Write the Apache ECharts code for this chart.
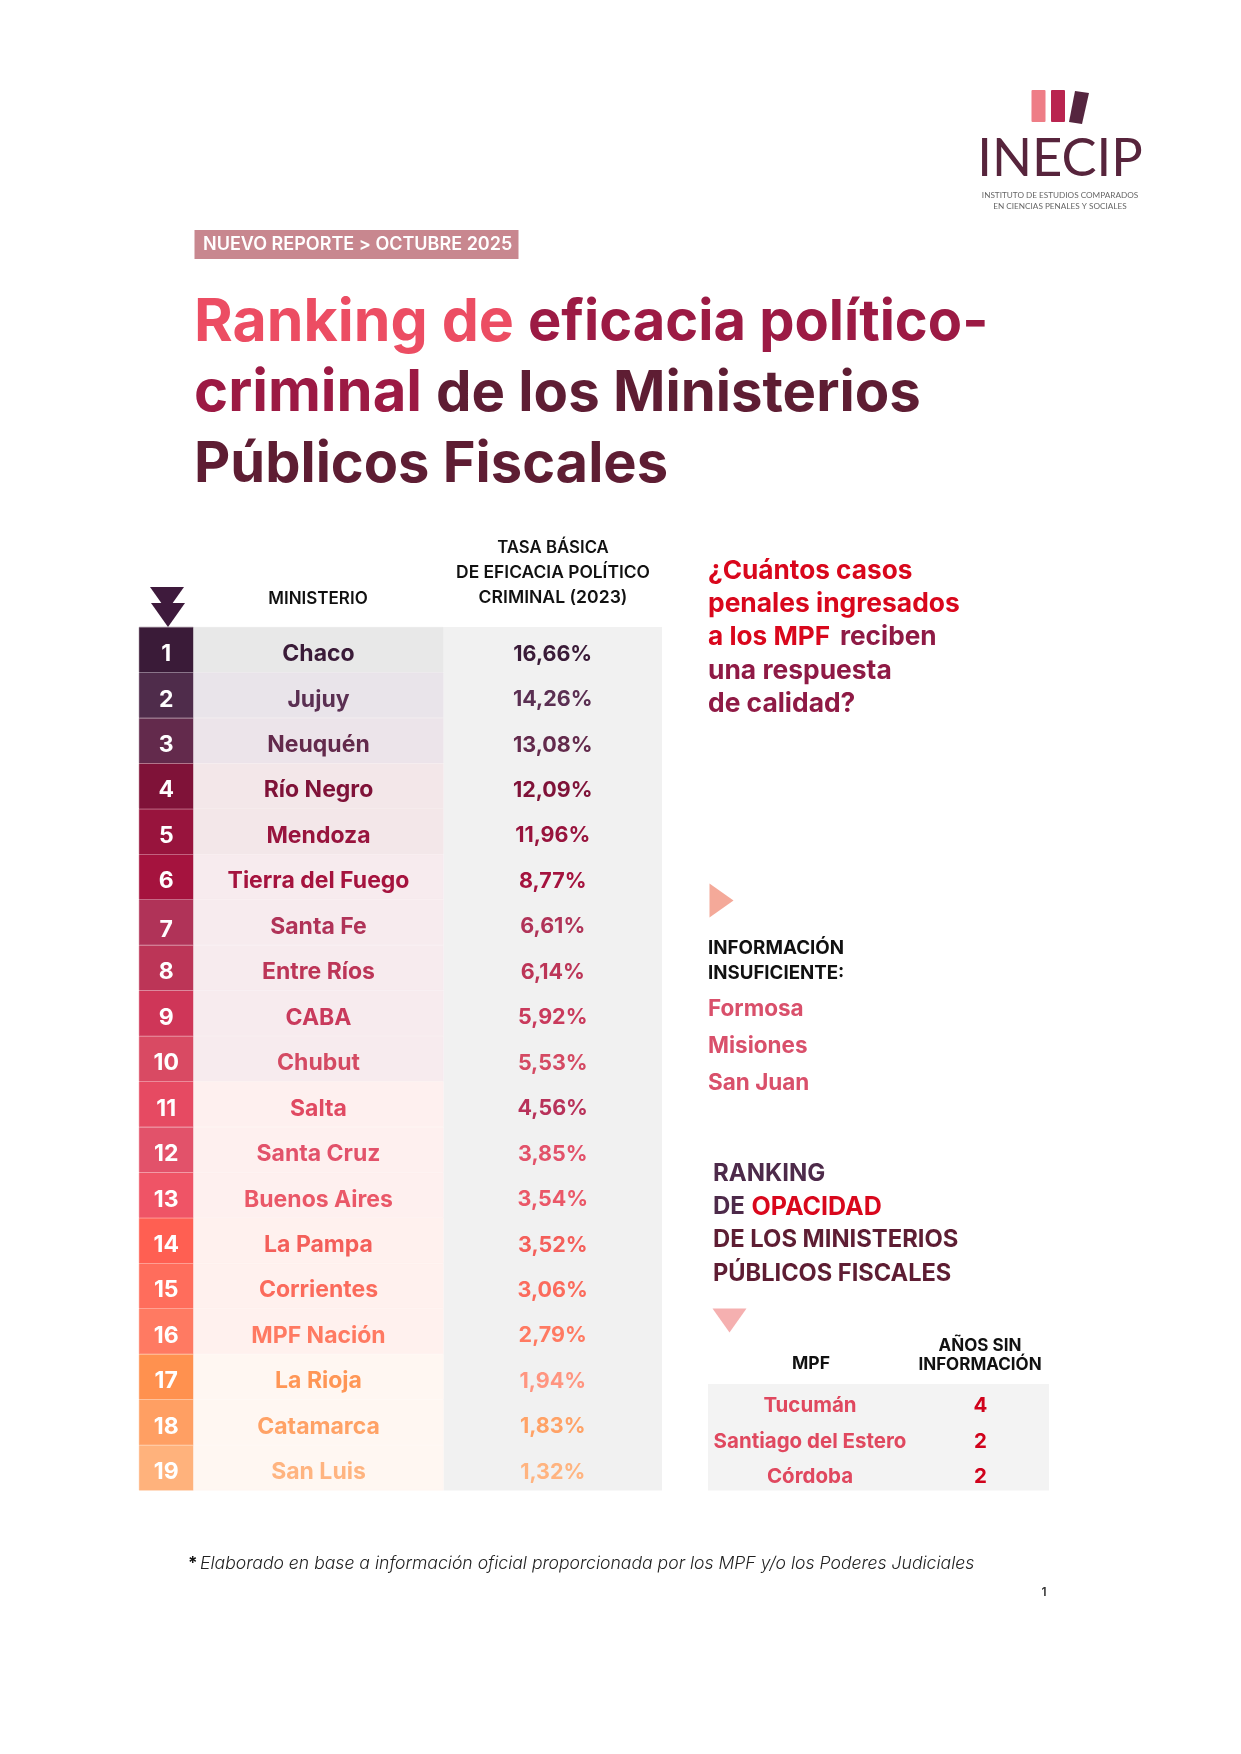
<!DOCTYPE html>
<html style="height: 100%">
<head>
<meta charset="utf-8">
<style>html,body{margin:0;padding:0;background:#fff}</style>
</head>
<body>
<div id="container" style="width:1241px;height:1754px"></div>
<script src="https://cdn.jsdelivr.net/npm/echarts@6/dist/echarts.min.js"></script>
<script>
// datos
var rangos = ['1','2','3','4','5','6','7','8','9','10','11','12','13','14','15','16','17','18','19'];
var ministerios = ['Chaco','Jujuy','Neuquén','Río Negro','Mendoza','Tierra del Fuego','Santa Fe','Entre Ríos','CABA','Chubut','Salta','Santa Cruz','Buenos Aires','La Pampa','Corrientes','MPF Nación','La Rioja','Catamarca','San Luis'];
var tasas = [16.66,14.26,13.08,12.09,11.96,8.77,6.61,6.14,5.92,5.53,4.56,3.85,3.54,3.52,3.06,2.79,1.94,1.83,1.32];
var insuficiente = ['Formosa','Misiones','San Juan'];
var opacidadMpf = ['Tucumán','Santiago del Estero','Córdoba'];
var opacidadAnios = [4,2,2];

// colores por fila
var colorRango = ['#3a1b38','#4f2c4b','#632a4c','#7f1238','#98143d','#a5133e','#b03358','#bc3557','#cf3658','#d94a63','#e64a62','#e2526a','#ef5466','#ff5f52','#ff6d5c','#ff7a62','#ff914f','#ff9f63','#ffb27c'];
var colorNombre = ['#3a1b38','#5a2f52','#632a4c','#7f1238','#98143d','#a5133e','#b03358','#bc3557','#c93a5c','#d44a63','#e04a62','#e2526a','#ea5868','#f45f5a','#fb6b5c','#ff7a62','#ff9656','#ffa266','#ffb480'];
var colorTasa = colorNombre.slice();
colorTasa[10] = '#b8325a';
colorTasa[16] = '#ff9580';
var fondoNombre = ['#e8e8e8','#e9e4ea','#ece4ea','#f3e7e9','#f3e7e9','#f7ebee','#f7ebee','#f7ebee','#f7ebee','#f7ebee','#fef0ef','#fef0ef','#fef0ef','#fff1ee','#fff1ee','#fff1ee','#fff7f2','#fff7f2','#fff7f2'];

var FONT = 'Inter';
var dom = document.getElementById('container');
var myChart = echarts.init(dom, null, {renderer: 'canvas'});

// una columna de la tabla = un grid con barras de ancho completo
// fondo liso: va en el grid para que no se vean costuras entre filas
var grids = [], xAxes = [], yAxes = [], series = [];
function addColumn(left, right, top, bottom, cats, texts, fondo, color, size, weight, lines) {
    var idx = grids.length;
    var liso = typeof fondo === 'string';
    grids.push({left: left, width: right - left, top: top, height: bottom - top, containLabel: false,
        show: liso, backgroundColor: liso ? fondo : 'transparent', borderWidth: 0});
    xAxes.push({type: 'value', gridIndex: idx, min: 0, max: 1, show: false});
    yAxes.push({
        type: 'category', gridIndex: idx, inverse: true, data: cats, z: 5,
        axisLine: {show: false}, axisTick: {show: false}, axisLabel: {show: false},
        splitLine: {show: !!lines, lineStyle: {color: 'rgba(255,255,255,0.22)', width: 1}}
    });
    series.push({
        type: 'bar', xAxisIndex: idx, yAxisIndex: idx, barWidth: '100%', silent: true, animation: false,
        data: cats.map(function (c, i) {
            var f = liso ? 'transparent' : fondo[i];
            return {
                value: 1,
                itemStyle: {color: f, borderColor: f, borderWidth: liso ? 0 : 0.6},
                label: {color: typeof color === 'string' ? color : color[i],
                    offset: [0, (lines && texts[i] === '7') ? 8 : 4.5]}
            };
        }),
        label: {
            show: true, position: 'inside', fontFamily: FONT, fontWeight: weight, fontSize: size,
            formatter: function (p) { return texts[p.dataIndex]; }
        }
    });
}

var TOP = 627, BOTTOM = 1490.5, TOP2 = 1384;
var tasaTxt = tasas.map(function (v) { return v.toFixed(2).replace('.', ',') + '%'; });
addColumn(139, 193.5, TOP, BOTTOM, rangos, rangos, colorRango, '#fff', 23, 700, true);
addColumn(193.5, 443.5, TOP, BOTTOM, ministerios, ministerios, fondoNombre, colorNombre, 23, 700);
addColumn(443.5, 662, TOP, BOTTOM, rangos, tasaTxt, '#f1f1f1', colorTasa, 21.5, 700);
addColumn(708, 912, TOP2, BOTTOM, opacidadMpf, opacidadMpf, '#f3f3f3', '#e0485f', 20.5, 700);
addColumn(912, 1049, TOP2, BOTTOM, opacidadMpf, opacidadAnios, '#f3f3f3', '#d0021b', 20.5, 700);

function txt(x, y, text, size, color, weight, align, extra) {
    var st = {text: text, fontFamily: FONT, fontSize: size, fill: color, fontWeight: weight || 700,
        textAlign: align || 'left', textVerticalAlign: 'middle'};
    if (extra) { for (var k in extra) st[k] = extra[k]; }
    return {type: 'text', x: x, y: y, style: st, z: 10, silent: true};
}
function tri(points, color) {
    return {type: 'polygon', shape: {points: points}, style: {fill: color}, z: 10, silent: true};
}

var ROJO = '#d9071c', GUINDA = '#8f1a45', VINO = '#5e1d33', CIRUELA = '#4d2a4a';
var graphic = [
    // logo
    {type: 'rect', shape: {x: 1031.5, y: 90, width: 14, height: 32, r: 1}, style: {fill: '#ee7d86'}, silent: true},
    {type: 'rect', shape: {x: 1051, y: 90, width: 14, height: 32, r: 1}, style: {fill: '#b9244f'}, silent: true},
    tri([[1075, 91], [1089, 93], [1082, 124], [1069, 122]], '#55253f'),
    txt(1060, 159, 'INECIP', 52.5, '#57243c', 400, 'center', {fontFamily: 'Lato'}),
    txt(1060, 195, 'INSTITUTO DE ESTUDIOS COMPARADOS', 8.2, '#666', 400, 'center', {fontFamily: 'Lato'}),
    txt(1060, 206, 'EN CIENCIAS PENALES Y SOCIALES', 8.2, '#666', 400, 'center', {fontFamily: 'Lato'}),

    // etiqueta y titulo
    {type: 'rect', shape: {x: 194.5, y: 230, width: 324, height: 29}, style: {fill: '#c8878f'}, silent: true},
    txt(203, 244.5, 'NUEVO REPORTE > OCTUBRE 2025', 18, '#fff', 600),
    txt(194, 323, 'Ranking de', 59, '#ec4d63'),
    txt(528, 323, 'eficacia político-', 56, '#9c1a44'),
    txt(194, 394, 'criminal', 58, '#9c1a44'),
    txt(436, 394, 'de los Ministerios', 56.3, VINO),
    txt(194, 465, 'Públicos Fiscales', 56, VINO),

    // cabeceras de la tabla
    tri([[150, 587], [184, 587], [167, 611]], '#3e1a3c'),
    tri([[151, 603], [185, 603], [168, 627]], '#3e1a3c'),
    txt(318, 599, 'MINISTERIO', 17, '#111', 600, 'center'),
    txt(553, 548, 'TASA BÁSICA', 16.8, '#111', 600, 'center'),
    txt(553, 573, 'DE EFICACIA POLÍTICO', 17.4, '#111', 600, 'center'),
    txt(553, 598, 'CRIMINAL (2023)', 17.6, '#111', 600, 'center'),

    // panel derecho
    txt(708, 571, '¿Cuántos casos', 26.2, ROJO),
    txt(708, 604, 'penales ingresados', 26.4, ROJO),
    txt(708, 637, 'a los MPF', 26.2, ROJO),
    txt(840, 637, 'reciben', 26.2, GUINDA),
    txt(708, 671, 'una respuesta', 26.4, GUINDA),
    txt(708, 704, 'de calidad?', 26.4, GUINDA),
    tri([[709.5, 883.5], [733.5, 900.5], [709.5, 917.5]], '#f4a999'),
    txt(708, 948, 'INFORMACIÓN', 18.8, '#111', 700),
    txt(708, 973, 'INSUFICIENTE:', 18.7, '#111', 700),
    txt(708, 1009, insuficiente[0], 22.5, '#d9506b'),
    txt(708, 1046, insuficiente[1], 22.5, '#d9506b'),
    txt(708, 1083, insuficiente[2], 22.5, '#d9506b'),
    txt(713, 1174, 'RANKING', 24, CIRUELA),
    txt(713, 1207, 'DE', 24, CIRUELA),
    txt(751.5, 1207, 'OPACIDAD', 25, ROJO),
    txt(713, 1240, 'DE LOS MINISTERIOS', 23.8, VINO),
    txt(713, 1274, 'PÚBLICOS FISCALES', 23.6, VINO),
    tri([[712.5, 1308.5], [746.5, 1308.5], [729.5, 1332.5]], '#f5b0b0'),
    txt(811, 1363.5, 'MPF', 17.5, '#111', 700, 'center'),
    txt(980, 1345.5, 'AÑOS SIN', 17, '#111', 700, 'center'),
    txt(980, 1365, 'INFORMACIÓN', 17, '#111', 700, 'center'),

    // pie
    txt(188, 1563.5, '*', 17, '#111', 700),
    txt(200, 1563.5, 'Elaborado en base a información oficial proporcionada por los MPF y/o los Poderes Judiciales', 17.6, '#222', 300, 'left', {fontStyle: 'italic'}),
    txt(1044, 1592.5, '1', 12, '#333', 600, 'center')
];

var option = {
    backgroundColor: '#fff',
    animation: false,
    grid: grids,
    xAxis: xAxes,
    yAxis: yAxes,
    series: series,
    graphic: graphic
};
myChart.setOption(option, true);
</script>
</body>
</html>
